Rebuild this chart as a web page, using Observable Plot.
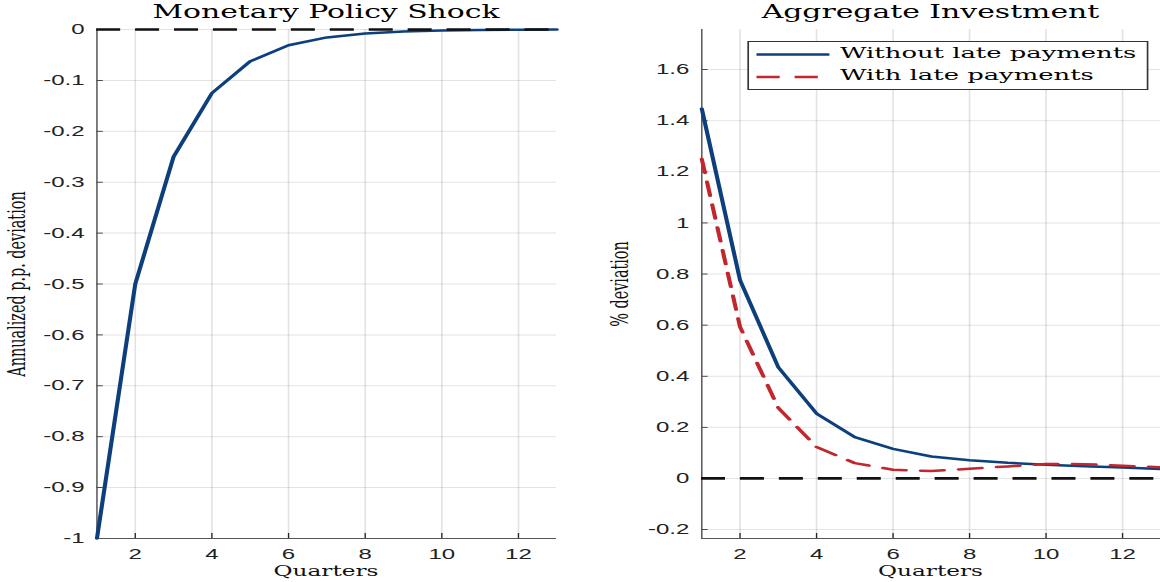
<!DOCTYPE html>
<html><head><meta charset="utf-8">
<script src="https://cdn.jsdelivr.net/npm/d3@7"></script>
<script src="https://cdn.jsdelivr.net/npm/@observablehq/plot@0.6"></script>
<style>
html,body{margin:0;padding:0;background:#fff;}
#stage{position:relative;width:1160px;height:582px;overflow:hidden;background:#fff;}
#inner{position:absolute;left:0;top:0;width:700px;height:582px;transform-origin:0 0;}
.abs{position:absolute;white-space:nowrap;}
.serif{font-family:"DejaVu Serif",serif;color:#000;}
.panel{position:absolute;top:0;}
.legend{position:absolute;background:#fff;border:1px solid #333;box-sizing:border-box;}
.legend svg{position:absolute;left:0;top:0;overflow:visible;}
</style></head><body>
<div id="stage"><div id="inner"></div></div>
<script>
// ---- data ----
const quarters = [1,2,3,4,5,6,7,8,9,10,11,12,13];
const policyShock = [-1,-0.5,-0.25,-0.125,-0.0625,-0.031,-0.0156,-0.0078,-0.0039,-0.002,-0.001,-0.0005,-0.0002];
const investWithout = [1.447,0.776,0.435,0.254,0.162,0.116,0.086,0.071,0.061,0.054,0.048,0.043,0.037];
const investWith = [1.25,0.593,0.276,0.123,0.060,0.034,0.029,0.038,0.047,0.057,0.056,0.050,0.044];
const xTicks = [2,4,6,8,10,12];
const shockTicks = [0,-0.1,-0.2,-0.3,-0.4,-0.5,-0.6,-0.7,-0.8,-0.9,-1];
const investTicks = [-0.2,0,0.2,0.4,0.6,0.8,1,1.2,1.4,1.6];
const titles = ["Monetary Policy Shock","Aggregate Investment"];
const xLabel = "Quarters";
const yLabels = ["Annualized p.p. deviation","% deviation"];
const seriesNames = ["Without late payments","With late payments"];
const blue = "#0d3f7d", red = "#c1272d";

// ---- layout (inner coordinates, stretched horizontally to 1160) ----
const STRETCH = 1160/700;
const inner = document.getElementById("inner");
inner.style.transform = `scaleX(${STRETCH})`;
const PW = 350, PH = 582, MT = 29, MB = 44;

function panel(left, mL, mR, yDomain, yTicks, lines) {
  const fw = PW - mL - mR, fh = PH - MT - MB;
  const marks = [
    Plot.gridX(xTicks, {stroke: "#000", strokeOpacity: 0.11}),
    Plot.gridY(yTicks, {stroke: "#000", strokeOpacity: 0.11}),
    Plot.axisX(xTicks, {tickSize: 0, tickPadding: 10, label: null, tickFormat: d => String(d)}),
    Plot.axisY(yTicks, {tickSize: 0, tickPadding: 7.5, label: null, tickFormat: d => String(d)}),
    Plot.tickX(xTicks, {x: d => d, insetTop: fh - 5, stroke: "#262626", strokeWidth: 0.8}),
    Plot.tickY(yTicks, {y: d => d, insetRight: fw - 4, stroke: "#262626", strokeWidth: 0.8}),
    Plot.ruleX([quarters[0]], {stroke: "#555", strokeWidth: 0.9}),
    Plot.ruleY([yDomain[0]], {stroke: "#555", strokeWidth: 0.9}),
    ...lines,
    Plot.ruleY([0], {stroke: "#111", strokeWidth: 2.7, strokeDasharray: "14.5,9"})
  ];
  const svg = Plot.plot({
    width: PW, height: PH, marginLeft: mL, marginRight: mR, marginTop: MT, marginBottom: MB,
    x: {domain: [quarters[0], quarters[quarters.length-1]]},
    y: {domain: yDomain},
    style: {fontFamily: "'Liberation Sans', Arial, sans-serif", fontSize: "14.5px", color: "#222", background: "transparent", overflow: "visible"},
    marks
  });
  const div = document.createElement("div");
  div.className = "panel";
  div.style.left = left + "px";
  div.appendChild(svg);
  inner.appendChild(div);
  return {center: left + mL + fw/2};
}

const shockData = quarters.map((q,i) => ({q, v: policyShock[i]}));
const withoutData = quarters.map((q,i) => ({q, v: investWithout[i]}));
const withData = quarters.map((q,i) => ({q, v: investWith[i]}));

const p1 = panel(0, 58, 14.5, [-1, 0], shockTicks, [
  Plot.line(shockData, {x: "q", y: "v", stroke: blue, strokeWidth: 2.5})
]);
const p2 = panel(350, 73, 0, [-0.235, 1.757], investTicks, [
  Plot.line(withoutData, {x: "q", y: "v", stroke: blue, strokeWidth: 2.5}),
  Plot.line(withData, {x: "q", y: "v", stroke: red, strokeWidth: 2.5, strokeDasharray: "14,9"})
]);

function addText(txt, cls, css) {
  const d = document.createElement("div");
  d.className = "abs " + cls;
  d.textContent = txt;
  Object.assign(d.style, css);
  inner.appendChild(d);
  return d;
}
// titles
[p1, p2].forEach((p, i) => {
  addText(titles[i], "serif", {left: p.center + "px", top: "3.3px", fontSize: "18px", lineHeight: "18px", transform: "translateX(-50%)"});
  addText(xLabel, "serif", {left: p.center + "px", top: "564px", fontSize: "14px", lineHeight: "14px", transform: "translateX(-50%)", color: "#111"});
});
// y labels
addText(yLabels[0], "serif", {left: "10px", top: "283.5px", fontSize: "14.4px", lineHeight: "14.4px", transform: "translate(-50%,-50%) rotate(-90deg)", color: "#111"});
addText(yLabels[1], "serif", {left: "373.5px", top: "283.5px", fontSize: "14.4px", lineHeight: "14.4px", transform: "translate(-50%,-50%) rotate(-90deg)", color: "#111"});

// legend
const lg = document.createElement("div");
lg.className = "legend";
Object.assign(lg.style, {left: "451.4px", top: "40.5px", width: "241.5px", height: "49.5px"});
const ns = "http://www.w3.org/2000/svg";
const lsvg = document.createElementNS(ns, "svg");
lsvg.setAttribute("width", 60); lsvg.setAttribute("height", 50);
const rows = [{name: seriesNames[0], color: blue, dash: null, y: 12.5}, {name: seriesNames[1], color: red, dash: "14,9", y: 35}];
rows.forEach(r => {
  const ln = document.createElementNS(ns, "line");
  ln.setAttribute("x1", 4.5); ln.setAttribute("x2", r.dash ? 44 : 48.5);
  ln.setAttribute("y1", r.y); ln.setAttribute("y2", r.y);
  ln.setAttribute("stroke", r.color); ln.setAttribute("stroke-width", 2.5);
  if (r.dash) ln.setAttribute("stroke-dasharray", r.dash);
  lsvg.appendChild(ln);
  const t = document.createElement("div");
  t.className = "abs serif";
  t.textContent = r.name;
  Object.assign(t.style, {left: "54.5px", top: (r.y - 8.5) + "px", fontSize: "15.6px", lineHeight: "15.6px"});
  lg.appendChild(t);
});
lg.appendChild(lsvg);
inner.appendChild(lg);
</script>
</body></html>
